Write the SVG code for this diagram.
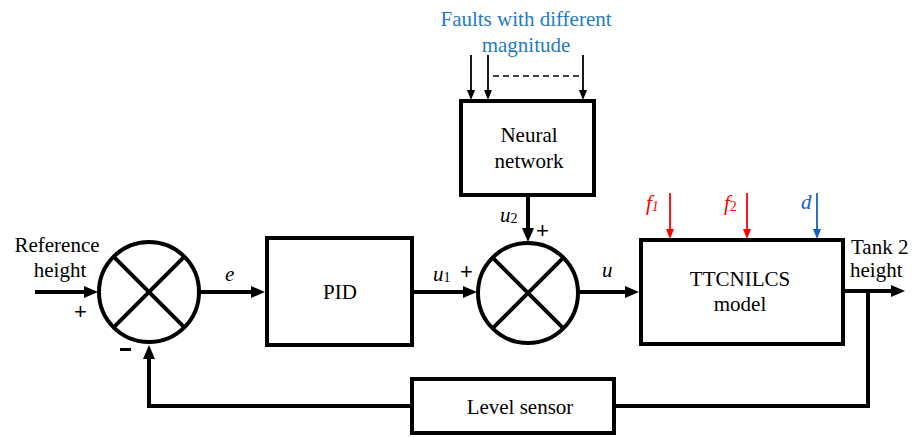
<svg xmlns="http://www.w3.org/2000/svg" width="914" height="437" viewBox="0 0 914 437">
<style>
.box{fill:#fff;stroke:#000;stroke-width:4}
.sum{fill:#fff;stroke:#000;stroke-width:4}
.x{stroke:#000;stroke-width:4}
.c{fill:none;stroke:#000;stroke-width:4}
.t{stroke:#000;stroke-width:1.8;fill:none}
text{font-family:"Liberation Serif","Times New Roman","DejaVu Serif",serif}
.txt{font-size:21px;fill:#000}
.lab{font-size:21px;font-style:italic}
.blue{font-size:21px;fill:#1f7bc6}
.pm{font-family:"Liberation Sans",Arial,sans-serif;font-size:22px;fill:#000}
</style>
<defs>
<marker id="ah" viewBox="0 0 14 12" refX="4" refY="6" markerWidth="14" markerHeight="12" markerUnits="userSpaceOnUse" orient="auto"><path d="M0,0 L14,6 L0,12 z" fill="#000"/></marker>
<marker id="ahs" viewBox="0 0 10 8" refX="3" refY="4" markerWidth="10" markerHeight="8" markerUnits="userSpaceOnUse" orient="auto"><path d="M0,0 L10,4 L0,8 z" fill="#000"/></marker>
<marker id="ahr" viewBox="0 0 10 8" refX="3" refY="4" markerWidth="10" markerHeight="8" markerUnits="userSpaceOnUse" orient="auto"><path d="M0,0 L10,4 L0,8 z" fill="#ff0000"/></marker>
<marker id="ahb" viewBox="0 0 10 8" refX="3" refY="4" markerWidth="10" markerHeight="8" markerUnits="userSpaceOnUse" orient="auto"><path d="M0,0 L10,4 L0,8 z" fill="#1560c0"/></marker>
</defs>

<g id="connectors">
<line class="c" x1="35" y1="292" x2="88" y2="292" marker-end="url(#ah)"/>
<line class="c" x1="200" y1="292" x2="255" y2="292" marker-end="url(#ah)"/>
<line class="c" x1="412" y1="292" x2="467" y2="292" marker-end="url(#ah)"/>
<line class="c" x1="579" y1="292" x2="629" y2="292" marker-end="url(#ah)"/>
<line class="c" x1="528" y1="195" x2="528" y2="232" marker-end="url(#ah)"/>
<line class="c" x1="843" y1="291" x2="895" y2="291" marker-end="url(#ah)"/>
<polyline class="c" points="868,291 868,406 614,406"/>
<polyline class="c" points="412,406 149,406 149,355" marker-end="url(#ah)"/>
<line class="t" x1="471" y1="55" x2="471" y2="93" marker-end="url(#ahs)"/>
<line class="t" x1="488" y1="55" x2="488" y2="93" marker-end="url(#ahs)"/>
<line class="t" x1="583" y1="55" x2="583" y2="93" marker-end="url(#ahs)"/>
<line x1="493" y1="76" x2="580" y2="76" stroke="#000" stroke-width="1.5" stroke-dasharray="6,4"/>
<line x1="670" y1="193" x2="670" y2="232" stroke="#ff0000" stroke-width="1.8" marker-end="url(#ahr)"/>
<line x1="747" y1="193" x2="747" y2="232" stroke="#ff0000" stroke-width="1.8" marker-end="url(#ahr)"/>
<line x1="817" y1="193" x2="817" y2="232" stroke="#1560c0" stroke-width="1.8" marker-end="url(#ahb)"/>
</g>

<g id="sum1">
<circle class="sum" cx="149" cy="292" r="50"/>
<line class="x" x1="113.6" y1="256.6" x2="184.4" y2="327.4"/>
<line class="x" x1="184.4" y1="256.6" x2="113.6" y2="327.4"/>
</g>
<g id="sum2">
<circle class="sum" cx="528" cy="293" r="50"/>
<line class="x" x1="492.6" y1="257.6" x2="563.4" y2="328.4"/>
<line class="x" x1="563.4" y1="257.6" x2="492.6" y2="328.4"/>
</g>

<g id="pid">
<rect class="box" x="267" y="238" width="145" height="107"/>
<text class="txt" x="340" y="299" text-anchor="middle" font-size="22">PID</text>
</g>
<g id="neural">
<rect class="box" x="461" y="101" width="133" height="94"/>
<text class="txt" x="529" y="142" text-anchor="middle">Neural</text>
<text class="txt" x="529" y="168" text-anchor="middle">network</text>
</g>
<g id="plant">
<rect class="box" x="641" y="240" width="202" height="104"/>
<text class="txt" x="740" y="286" text-anchor="middle">TTCNILCS</text>
<text class="txt" x="740" y="311" text-anchor="middle">model</text>
</g>
<g id="sensor">
<rect class="box" x="412" y="379" width="202" height="54"/>
<text class="txt" x="520" y="414" text-anchor="middle">Level sensor</text>
</g>

<g id="labels">
<text class="txt" x="57" y="252" text-anchor="middle">Reference</text>
<text class="txt" x="60" y="277" text-anchor="middle">height</text>
<text class="txt" x="851" y="254">Tank 2</text>
<text class="txt" x="850" y="277">height</text>
<text class="blue" x="526" y="26" text-anchor="middle">Faults with different</text>
<text class="blue" x="526" y="52" text-anchor="middle">magnitude</text>
<text class="lab" x="225" y="281" fill="#000">e</text>
<text class="lab" x="433" y="281" fill="#000">u<tspan font-size="14" font-style="normal" dy="1">1</tspan></text>
<text class="lab" x="500" y="222" fill="#000">u<tspan font-size="14" font-style="normal" dy="1">2</tspan></text>
<text class="lab" x="602" y="277" fill="#000">u</text>
<text class="lab" x="646" y="210" fill="#ff0000">f<tspan font-size="14" dy="1">1</tspan></text>
<text class="lab" x="724" y="210" fill="#ff0000">f<tspan font-size="14" font-style="normal" dy="1">2</tspan></text>
<text class="lab" x="801" y="209" fill="#1560c0">d</text>
<text class="pm" x="74" y="319">+</text>
<text class="pm" x="460" y="279">+</text>
<text class="pm" x="536" y="238">+</text>
<rect x="120" y="348" width="11" height="3" fill="#000"/>
</g>
</svg>
